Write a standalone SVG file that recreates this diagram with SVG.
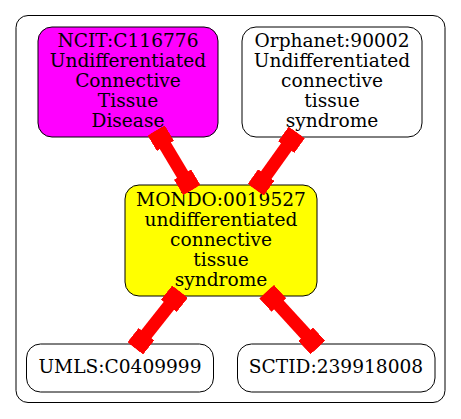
<svg xmlns="http://www.w3.org/2000/svg" width="461" height="419" viewBox="0 0 461 419">
  <style>
    .node rect { stroke: #000; stroke-width: 1; }
    .node text { font-family: "DejaVu Serif", "Liberation Serif", serif; font-size: 18.6px; text-anchor: middle; fill: #000; }
    .edge { stroke: #ff0000; stroke-width: 13; fill: none; marker-start: url(#box); marker-end: url(#box); }
  </style>
  <defs>
    <marker id="box" markerUnits="userSpaceOnUse" viewBox="0 0 18 20" markerWidth="18" markerHeight="20" refX="18" refY="10" orient="auto-start-reverse">
      <rect x="0" y="0" width="18" height="20" fill="#ff0000"/>
    </marker>
  </defs>

  <rect width="461" height="419" fill="#ffffff"/>

  <!-- cluster -->
  <rect x="16" y="15.5" width="429" height="387" rx="12" ry="12" fill="none" stroke="#000" stroke-width="1"/>

  <g id="ncit" class="node">
    <rect x="38" y="27" width="180" height="110" rx="14" ry="14" fill="#ff00ff"/>
    <text x="128" y="46.7">NCIT:C116776</text>
    <text x="128" y="66.7">Undifferentiated</text>
    <text x="128" y="86.7">Connective</text>
    <text x="128" y="106.7">Tissue</text>
    <text x="128" y="126.7">Disease</text>
  </g>

  <g id="orphanet" class="node">
    <rect x="242" y="27" width="180" height="110" rx="14" ry="14" fill="#ffffff"/>
    <text x="332" y="46.7">Orphanet:90002</text>
    <text x="332" y="66.7">Undifferentiated</text>
    <text x="332" y="86.7">connective</text>
    <text x="332" y="106.7">tissue</text>
    <text x="332" y="126.7">syndrome</text>
  </g>

  <g id="mondo" class="node">
    <rect x="125" y="185" width="192" height="111" rx="14" ry="14" fill="#ffff00"/>
    <text x="221" y="206">MONDO:0019527</text>
    <text x="221" y="226">undifferentiated</text>
    <text x="221" y="246">connective</text>
    <text x="221" y="266">tissue</text>
    <text x="221" y="286">syndrome</text>
  </g>

  <g id="umls" class="node">
    <rect x="26.5" y="344" width="187" height="48" rx="14" ry="14" fill="#ffffff"/>
    <text x="120" y="373">UMLS:C0409999</text>
  </g>

  <g id="sctid" class="node">
    <rect x="237.5" y="344" width="197.5" height="48" rx="14" ry="14" fill="#ffffff"/>
    <text x="336" y="373">SCTID:239918008</text>
  </g>

  <g id="connectors">
    <path class="edge" d="M156.2,130.5 L191.8,190"/>
    <path class="edge" d="M296.7,132.5 L255.8,189.7"/>
    <path class="edge" d="M180,291.7 L135.3,348.3"/>
    <path class="edge" d="M266.7,291.7 L317.8,347.5"/>
  </g>
</svg>
